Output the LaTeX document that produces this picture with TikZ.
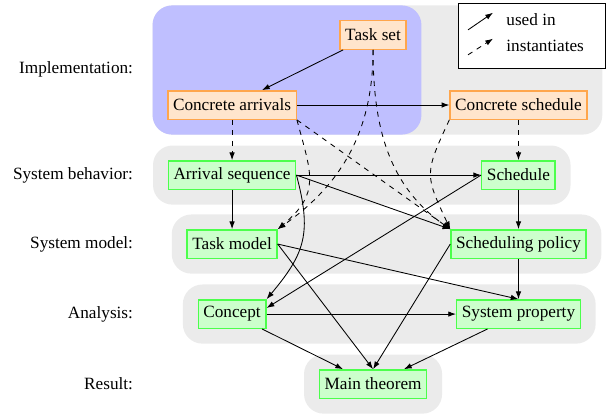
\documentclass[tikz,border=0pt]{standalone}
\usepackage{fontspec}
\setmainfont{Liberation Serif}
\usepackage{tikz}
\usetikzlibrary{
	arrows.meta,
	positioning,
	fit,
	backgrounds
}

\begin{document}
\begin{tikzpicture}[
		>={Latex[length=4.5pt,width=3.2pt]},
		implbox/.style={draw=orange!70, fill=orange!20, line width=0.8pt, inner sep=3pt, minimum height=16.5pt},
		specbox/.style={draw=green!70, fill=green!20, line width=0.8pt, inner sep=3pt, minimum height=16.5pt},
		layerbg/.style={fill=black!8, rounded corners=0.4cm, inner sep=0.3cm},
		rowlabel/.style={anchor=east},
		usedin/.style={->, line width=0.5pt},
		inst/.style={->, dashed, line width=0.5pt}
	]
		\useasboundingbox (0,0) rectangle (12.48,8.54);

		% boxes
		\node[implbox] (ts) at (7.62,7.825) {Task set};
		\node[implbox] (ca) at (4.74,6.395) {Concrete arrivals};
		\node[implbox] (cs) at (10.59,6.395) {Concrete schedule};
		\node[specbox] (as) at (4.74,4.964) {Arrival sequence};
		\node[specbox] (sch) at (10.59,4.964) {Schedule};
		\node[specbox] (tm) at (4.74,3.555) {Task model};
		\node[specbox] (sp) at (10.59,3.555) {Scheduling policy};
		\node[specbox] (con) at (4.74,2.125) {Concept};
		\node[specbox] (sprop) at (10.59,2.125) {System property};
		\node[specbox] (mt) at (7.62,0.695) {Main theorem};

		% row labels
		\node[rowlabel] (limpl) at (2.84,7.13) {Implementation:};
		\node[rowlabel] (lbeh) at (2.84,4.964) {System behavior:};
		\node[rowlabel] (lmod) at (2.84,3.555) {System model:};
		\node[rowlabel] (lana) at (2.84,2.125) {Analysis:};
		\node[rowlabel] (lres) at (2.84,0.695) {Result:};

		\begin{scope}[on background layer]
			\node[layerbg, fit=(ts)(ca)(cs)] (gimpl) {};
			\node[layerbg, fill=blue!25, fit=(ts)(ca)] (bimpl) {};
			\node[layerbg, fit=(as)(sch)] (gbeh) {};
			\node[layerbg, fit=(tm)(sp)] (gmod) {};
			\node[layerbg, fit=(con)(sprop)] (gana) {};
			\node[layerbg, fit=(mt)] (gres) {};
		\end{scope}

		% legend
		\node[draw, fill=white, line width=0.5pt, minimum width=3.0cm, minimum height=1.33cm] (legend) at (10.86,7.815) {};
		\node[anchor=west] (lused) at (10.22,8.13) {used in};
		\node[anchor=west] (linst) at (10.22,7.60) {instantiates};
		\coordinate (u0) at (9.56,7.93);
		\coordinate (u1) at (10.07,8.28);
		\coordinate (i0) at (9.56,7.42);
		\coordinate (i1) at (10.07,7.75);
		\draw[usedin] (u0) -- (u1);
		\draw[inst] (i0) -- (i1);

		% used in
		\draw[usedin] (ts) -- (ca);
		\draw[usedin] (ca) -- (cs);
		\draw[usedin] (as) -- (sch);
		\draw[usedin] (as.east) -- (sp.north west);
		\draw[usedin] (as) -- (tm);
		\draw[usedin] (as.east) to[out=-75, in=50, looseness=1.2] (con.north east);
		\draw[usedin] (sch) -- (sp);
		\draw[usedin] (sch.west) -- (con.10);
		\draw[usedin] (sp) -- (sprop);
		\draw[usedin] (tm.east) -- (mt.north);
		\draw[usedin] (tm.east) -- (sprop.north);
		\draw[usedin] (sp.west) -- (mt.north);
		\draw[usedin] (con) -- (sprop);
		\draw[usedin] (con) -- (mt);
		\draw[usedin] (sprop) -- (mt);

		% instantiates
		\draw[inst] (ca) -- (as);
		\draw[inst] (cs) -- (sch);
		\draw[inst] (ts.south) to[out=-90, in=35] (tm.north east);
		\draw[inst] (ts.south) to[out=-90, in=145] (sp.north west);
		\draw[inst] (ca.south east) to[out=-75, in=40, looseness=1.3] (tm.north east);
		\draw[inst] (ca.south east) -- (sp.north west);
		\draw[inst] (cs.south west) to[out=-115, in=115, looseness=1.4] (sp.north west);
	\end{tikzpicture}
\end{document}
